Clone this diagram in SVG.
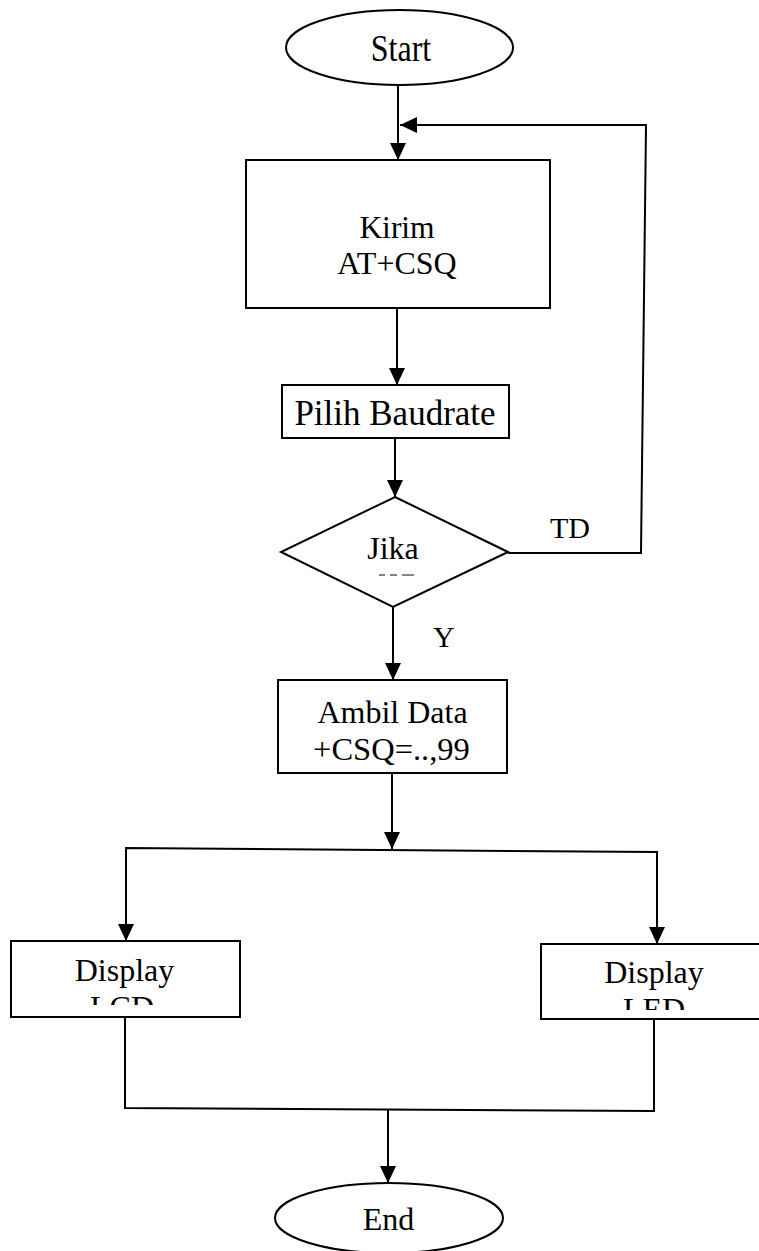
<svg xmlns="http://www.w3.org/2000/svg" width="759" height="1251" viewBox="0 0 759 1251">
  <style>
    .shape { fill: #ffffff; stroke: #000000; stroke-width: 2; }
    .wire { fill: none; stroke: #000000; stroke-width: 2; }
    .label { font-family: "Liberation Serif", "Times New Roman", serif; fill: #000000; }
    .mid { text-anchor: middle; }
  </style>
  <defs>
    <marker id="arrow" viewBox="0 0 17 16" refX="17" refY="8" markerWidth="17" markerHeight="16" markerUnits="userSpaceOnUse" orient="auto">
      <path d="M0,0 L17,8 L0,16 Z" fill="#000000"/>
    </marker>
    <clipPath id="clipLcd"><rect x="12" y="940" width="226" height="65"/></clipPath>
    <clipPath id="clipLed"><rect x="542" y="943" width="217" height="67"/></clipPath>
  </defs>

  <!-- connectors -->
  <g id="connectors">
    <line class="wire" x1="398" y1="85" x2="398" y2="160" marker-end="url(#arrow)"/>
    <polyline class="wire" points="508,553 641,553 646,125 400,125" marker-end="url(#arrow)"/>
    <line class="wire" x1="397" y1="308" x2="397" y2="385" marker-end="url(#arrow)"/>
    <line class="wire" x1="395" y1="438" x2="395" y2="497" marker-end="url(#arrow)"/>
    <line class="wire" x1="393" y1="607" x2="393" y2="680" marker-end="url(#arrow)"/>
    <line class="wire" x1="392" y1="773" x2="392" y2="849" marker-end="url(#arrow)"/>
    <polyline class="wire" points="126,941 126,848 657,852 657,944"/>
    <line class="wire" x1="126" y1="900" x2="126" y2="941" marker-end="url(#arrow)"/>
    <line class="wire" x1="657" y1="900" x2="657" y2="944" marker-end="url(#arrow)"/>
    <polyline class="wire" points="125,1017 125,1108 654,1111 654,1019"/>
    <line class="wire" x1="388" y1="1109" x2="388" y2="1183" marker-end="url(#arrow)"/>
    <text class="label" x="550" y="538" font-size="30">TD</text>
    <text class="label" x="433" y="647" font-size="30">Y</text>
  </g>

  <!-- nodes -->
  <g id="start">
    <ellipse class="shape" cx="399.5" cy="47.5" rx="113.5" ry="37.5"/>
    <text class="label mid" x="401" y="0" font-size="32" transform="translate(0,61) scale(1,1.17)">Start</text>
  </g>

  <g id="kirim">
    <rect class="shape" x="246" y="160" width="304" height="148"/>
    <text class="label mid" x="397" y="238" font-size="31.5">Kirim</text>
    <text class="label mid" x="397" y="274" font-size="32">AT+CSQ</text>
  </g>

  <g id="pilih">
    <rect class="shape" x="282" y="385" width="227" height="53"/>
    <text class="label mid" x="395" y="425" font-size="35">Pilih Baudrate</text>
  </g>

  <g id="jika">
    <polygon class="shape" points="395,497 508,552 393,607 281,552"/>
    <text class="label mid" x="393" y="559" font-size="32">Jika</text>
    <g stroke="#333333" stroke-width="1.2">
      <line x1="379" y1="575" x2="385" y2="575"/>
      <line x1="390" y1="575" x2="397" y2="575"/>
      <line x1="402" y1="575" x2="414" y2="575"/>
    </g>
  </g>

  <g id="ambil">
    <rect class="shape" x="278" y="680" width="229" height="93"/>
    <text class="label mid" x="392.5" y="723" font-size="32">Ambil Data</text>
    <text class="label mid" x="391.5" y="760" font-size="32.5">+CSQ=..,99</text>
  </g>

  <g id="display-lcd">
    <rect class="shape" x="11" y="941" width="229" height="76"/>
    <text class="label mid" x="124.5" y="981" font-size="32">Display</text>
    <text class="label mid" x="122" y="1018" font-size="32" clip-path="url(#clipLcd)">LCD</text>
  </g>

  <g id="display-led">
    <rect class="shape" x="541" y="944" width="230" height="75"/>
    <text class="label mid" x="654" y="983" font-size="32">Display</text>
    <text class="label mid" x="654" y="1020" font-size="32" clip-path="url(#clipLed)">LED</text>
  </g>

  <g id="end">
    <ellipse class="shape" cx="389" cy="1218" rx="114" ry="35"/>
    <text class="label mid" x="388.5" y="1230" font-size="32">End</text>
  </g>
</svg>
